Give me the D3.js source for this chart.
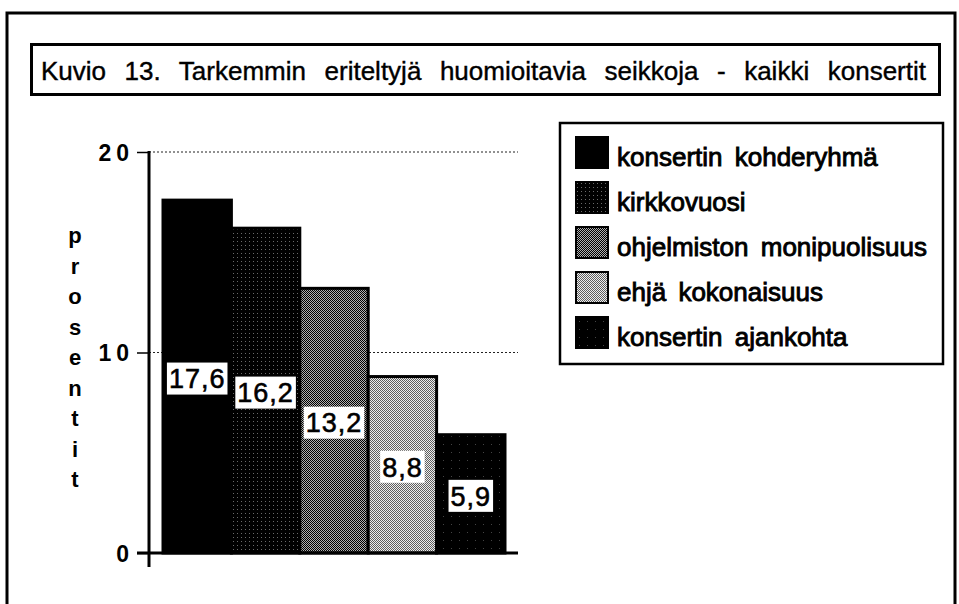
<!DOCTYPE html>
<html>
<head>
<meta charset="utf-8">
<script src="https://d3js.org/d3.v7.min.js"></script>
<style>
  body { margin: 0; background: #fff; }
  svg { display: block; font-family: "Liberation Sans", Arial, Helvetica, sans-serif; }
  .bold { font-weight: bold; }
</style>
</head>
<body>
<div id="chart"></div>
<script>
// chart data
var title = "Kuvio 13. Tarkemmin eriteltyjä huomioitavia seikkoja - kaikki konsertit";
var categories = ["konsertin kohderyhmä", "kirkkovuosi", "ohjelmiston monipuolisuus", "ehjä kokonaisuus", "konsertin ajankohta"];
var values = [17.6, 16.2, 13.2, 8.8, 5.9];
var yTicks = [0, 10, 20];
var yTitle = "prosentit";

var W = 959, H = 604;
var svg = d3.select("#chart").append("svg").attr("width", W).attr("height", H);

/* fill patterns, a bit like the dithered greys of the scan */
var defs = svg.append("defs");
function pattern(id, size, bg, dots) {
  var p = defs.append("pattern").attr("id", id).attr("width", size).attr("height", size)
    .attr("patternUnits", "userSpaceOnUse");
  p.append("rect").attr("width", size).attr("height", size).attr("fill", bg);
  dots.forEach(function(d) {
    p.append("rect").attr("x", d[0]).attr("y", d[1]).attr("width", 1).attr("height", 1).attr("fill", d[2]);
  });
}
pattern("f0", 2, "#000", []);
pattern("f1", 4, "#000", [[1, 1, "#6a6a6a"]]);
pattern("f2", 2, "#000", [[1, 0, "#b0b0b0"], [0, 1, "#b0b0b0"]]);
pattern("f3", 2, "#5e5e5e", [[1, 0, "#eeeeee"], [0, 1, "#eeeeee"]]);
pattern("f4", 8, "#000", [[3, 4, "#444"]]);
var fills = ["url(#f0)", "url(#f1)", "url(#f2)", "url(#f3)", "url(#f4)"];

// outer frame (bottom is cut off in the scan)
svg.append("path").attr("d", "M7," + H + "V13H955V" + H)
  .attr("fill", "none").attr("stroke", "#000").attr("stroke-width", 3);

// title box
svg.append("rect").attr("x", 31.5).attr("y", 44.5).attr("width", 908).attr("height", 50)
  .attr("fill", "#fff").attr("stroke", "#000").attr("stroke-width", 3);
var t = svg.append("text").attr("x", 41).attr("y", 80)
  .style("font-size", "26px").attr("stroke", "#000").attr("stroke-width", 0.4)
  .text(title);
var nat = t.node().getComputedTextLength();
t.attr("word-spacing", (885 - nat) / (title.split(" ").length - 1));

// scales
var y = d3.scaleLinear().domain([0, 20]).range([553, 152]);
var x = d3.scaleBand().domain(categories).range([163, 505]).padding(0);

// dotted gridlines
svg.append("g").selectAll("line").data(yTicks.filter(function(d) { return d > 0; }))
  .join("line")
  .attr("x1", 149).attr("x2", 518)
  .attr("y1", function(d) { return y(d); }).attr("y2", function(d) { return y(d); })
  .attr("stroke", "#222").attr("stroke-width", 1).attr("stroke-dasharray", "2,2");

// bars
svg.append("g").selectAll("rect").data(values).join("rect")
  .attr("x", function(d, i) { return x(categories[i]); })
  .attr("y", function(d) { return y(d); })
  .attr("width", x.bandwidth())
  .attr("height", function(d) { return y(0) - y(d); })
  .attr("fill", function(d, i) { return fills[i]; })
  .attr("stroke", "#000").attr("stroke-width", 3);

// value labels in white boxes
var lab = svg.append("g").selectAll("g").data(values).join("g")
  .attr("transform", function(d, i) {
    return "translate(" + (x(categories[i]) + x.bandwidth() / 2) + "," + (y(d / 2) + 2) + ")";
  });
lab.append("rect").attr("fill", "#fff");
lab.append("text").attr("text-anchor", "middle").attr("dy", "0.36em")
  .style("font-size", "27px").style("letter-spacing", "1px")
  .attr("stroke", "#000").attr("stroke-width", 0.6)
  .text(function(d) { return d.toFixed(1).replace(".", ","); });
lab.each(function() {
  var g = d3.select(this), b = g.select("text").node().getBBox();
  g.select("rect").attr("x", b.x - 2).attr("y", -16).attr("width", b.width + 4).attr("height", 32);
});

// y axis
var yAxis = svg.append("g").attr("transform", "translate(149,0)")
  .call(d3.axisLeft(y).tickValues(yTicks).tickSize(12).tickSizeOuter(0).tickPadding(8));
yAxis.select(".domain").remove();
yAxis.selectAll(".tick line").attr("stroke", "#000").attr("stroke-width", 1.5);
yAxis.selectAll(".tick text").attr("fill", "#000").attr("class", "bold")
  .style("font-size", "23px").style("letter-spacing", "5px").attr("dx", 5).attr("dy", "0.36em")
  .style("font-family", "inherit");
svg.append("line").attr("x1", 149).attr("x2", 149).attr("y1", y(20) - 1).attr("y2", 567)
  .attr("stroke", "#000").attr("stroke-width", 3);
svg.append("line").attr("x1", 137).attr("x2", 518).attr("y1", y(0)).attr("y2", y(0))
  .attr("stroke", "#000").attr("stroke-width", 3);

// vertical axis title, one letter per row
svg.append("g").selectAll("text").data(yTitle.split("")).join("text")
  .attr("class", "bold").attr("text-anchor", "middle")
  .attr("x", 75).attr("y", function(d, i) { return 243 + i * 30.5; })
  .style("font-size", "22px")
  .text(function(d) { return d; });

// legend
svg.append("rect").attr("x", 560).attr("y", 123).attr("width", 383).attr("height", 241)
  .attr("fill", "#fff").attr("stroke", "#000").attr("stroke-width", 2.5);
var leg = svg.append("g").selectAll("g").data(categories).join("g")
  .attr("transform", function(d, i) { return "translate(576," + (137 + i * 45) + ")"; });
leg.append("rect").attr("width", 32).attr("height", 31)
  .attr("fill", function(d, i) { return fills[i]; })
  .attr("stroke", "#000").attr("stroke-width", 2);
leg.append("text").attr("x", 41).attr("y", 29)
  .style("font-size", "26px").attr("word-spacing", 5)
  .attr("stroke", "#000").attr("stroke-width", 0.9)
  .text(function(d) { return d; });
</script>
</body>
</html>
